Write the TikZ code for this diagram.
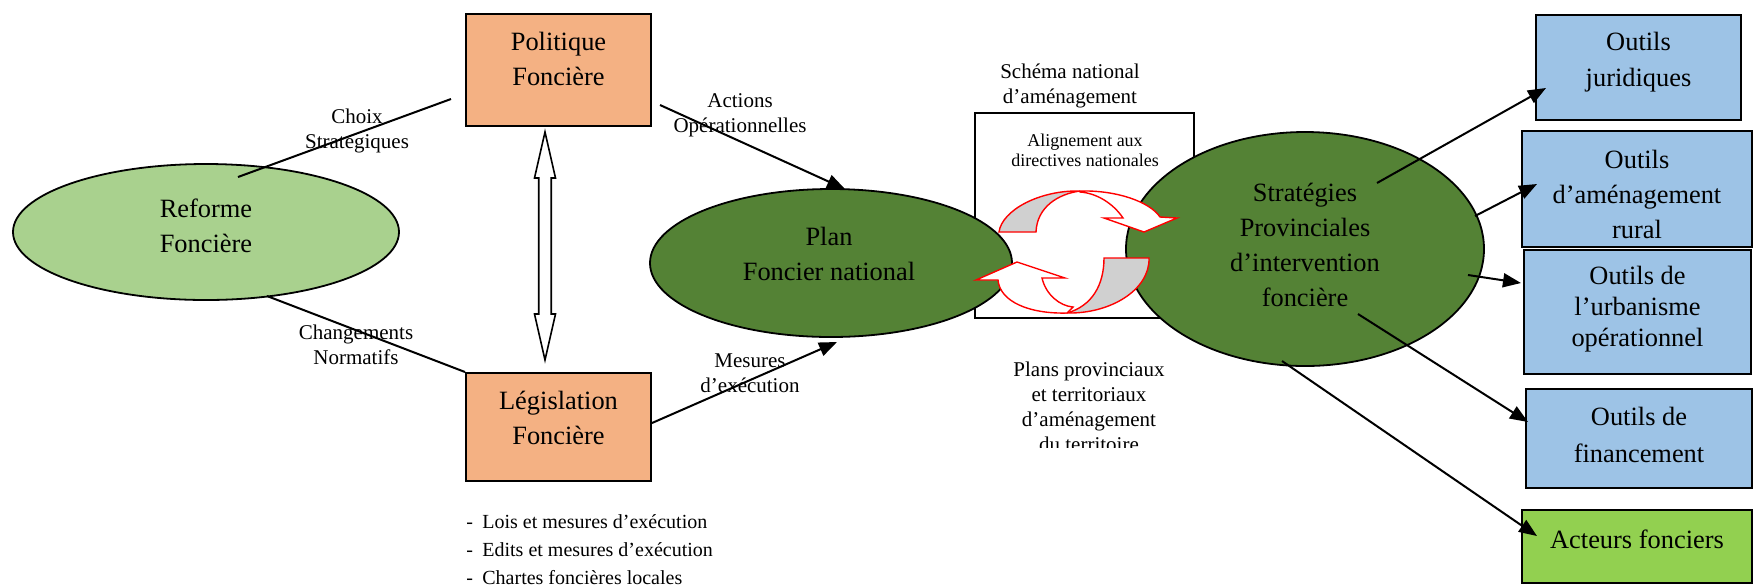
\documentclass[tikz,border=0pt]{standalone}
\usepackage{fontspec}
\setmainfont{Liberation Serif}
\usetikzlibrary{calc,arrows.meta,shapes.geometric}
\definecolor{orangebox}{HTML}{F4B183}
\definecolor{lightgreen}{HTML}{A9D18E}
\definecolor{darkgreen}{HTML}{548235}
\definecolor{bluebox}{HTML}{9DC3E6}
\definecolor{actgreen}{HTML}{92D050}
\begin{document}
\begin{tikzpicture}[x=0.5pt,y=-0.5pt,
  bigtxt/.style={font=\fontsize{13.2}{17.5}\selectfont, align=center, inner sep=0pt},
  smalltxt/.style={font=\fontsize{10.5}{12.5}\selectfont, align=center, inner sep=0pt},
  tinytxt/.style={font=\fontsize{9}{10}\selectfont, align=center, inner sep=0pt},
  listtxt/.style={font=\fontsize{10}{14}\selectfont, inner sep=0pt, anchor=base west},
  obox/.style={draw, line width=1pt, fill=orangebox, minimum width=92.5pt, inner sep=0pt},
  bbox/.style={draw, line width=1pt, fill=bluebox, inner sep=0pt},
  ell/.style={draw, ellipse, line width=0.9pt, inner sep=0pt},
  conn/.style={line width=1pt},
  arr/.style={line width=1pt, -{Triangle[length=9pt,width=7pt]}},
  carrow/.style={draw=red, line width=0.7pt, fill=white},
  cgray/.style={draw=red, line width=0.7pt, fill=gray!37},
  dbl/.style={draw, line width=0.8pt, fill=white}
]
\useasboundingbox (0,0) rectangle (1753,586);

% left part
\node[ell, fill=lightgreen, minimum width=193pt, minimum height=68pt] (ref) at (206,232) {};
\node[bigtxt] (reft) at (206,226) {Reforme\\Foncière};

\node[obox, minimum height=56pt] (pol) at (558.5,70) {};
\node[bigtxt] (polt) at (558.5,59) {Politique\\Foncière};
\node[obox, minimum height=54pt] (leg) at (558.5,427) {};
\node[bigtxt] (legt) at (558.5,418) {Législation\\Foncière};

% schema box
\node[draw, line width=1pt, minimum width=109.5pt, minimum height=102.5pt, inner sep=0pt] (schema) at (1084.5,215.5) {};
\node[smalltxt] (schemat) at (1070,86) {Schéma national\\d’aménagement};
\node[tinytxt] (alignt) at (1085,150) {Alignement aux\\directives nationales};

% ellipses
\node[ell, fill=darkgreen, minimum width=181pt, minimum height=74pt] (plan) at (831,263) {};
\node[bigtxt] (plant) at (829,254) {Plan\\Foncier national};
\node[ell, fill=darkgreen, minimum width=179pt, minimum height=117pt] (strat) at (1305,249) {};
\node[bigtxt] (stratt) at (1305,245) {Stratégies\\Provinciales\\d’intervention\\foncière};

% circular arrows
\path[cgray] (999,232) .. controls (1002,210) and (1040,190) .. (1080,191)
  .. controls (1058,194) and (1037,207) .. (1036,232) -- cycle;
\path[carrow] (1080,191) .. controls (1117,190) and (1150,202) .. (1160,217)
  -- (1177,218) -- (1144,232) -- (1104,218) -- (1123,218)
  .. controls (1113,203) and (1096,193) .. (1080,192) -- cycle;
\path[cgray] (1104,258) -- (1149,258) .. controls (1150,290) and (1110,314) .. (1067,313)
  .. controls (1092,306) and (1104,285) .. (1104,258) -- cycle;
\path[carrow] (1067,313) .. controls (1030,314) and (1000,302) .. (998,280)
  -- (976,280) -- (1017,262) -- (1065,278) -- (1042,278)
  .. controls (1046,295) and (1060,306) .. (1073,307) -- cycle;

% plans provinciaux text (clipped as in the original)
\begin{scope}
\clip (950,340) rectangle (1230,447);
\node[smalltxt] (planst) at (1089,407) {Plans provinciaux\\et territoriaux\\d’aménagement\\du territoire};
\end{scope}

% right boxes
\node[bbox, minimum width=102.5pt, minimum height=52.5pt] (jur) at (1638.5,67.5) {};
\node[bigtxt, font=\fontsize{13.2}{18}\selectfont] (jurt) at (1638.5,62) {Outils\\juridiques};
\node[bbox, minimum width=115pt, minimum height=58pt] (amen) at (1637,189) {};
\node[bigtxt] (ament) at (1637,194) {Outils\\d’aménagement\\rural};
\node[bbox, minimum width=113.5pt, minimum height=62pt] (urb) at (1637.5,312) {};
\node[bigtxt, font=\fontsize{13.2}{15.5}\selectfont] (urbt) at (1637.5,309) {Outils de\\l’urbanisme\\opérationnel};
\node[bbox, minimum width=113pt, minimum height=49.5pt] (fin) at (1639,438.5) {};
\node[bigtxt, font=\fontsize{13.2}{18.5}\selectfont] (fint) at (1639,435) {Outils de\\financement};
\node[draw, line width=1pt, fill=actgreen, inner sep=0pt, minimum width=115pt, minimum height=36.5pt] (act) at (1637,546.5) {};
\node[bigtxt] (actt) at (1637,539) {Acteurs fonciers};

% left connectors
\draw[conn] ($(pol.west)+(-14,29)$) -- ($(ref.center)+(32,-55)$);
\draw[conn] ($(ref.center)+(61,64)$) -- (leg.north west);
\node[smalltxt] (choixt) at (357,131) {Choix\\Strategiques};
\node[smalltxt] (changt) at (356,345) {Changements\\Normatifs};

% double arrow
\coordinate (dtop) at ($(pol.south)+(-13.5,5)$);
\coordinate (dbot) at ($(leg.north)+(-13.5,-12)$);
\draw[dbl] (dtop) -- ($(dtop)+(10.5,46)$) -- ($(dtop)+(6.25,46)$) -- ($(dbot)+(6.25,-46)$)
  -- ($(dbot)+(10.5,-46)$) -- (dbot) -- ($(dbot)+(-10.5,-46)$) -- ($(dbot)+(-6.25,-46)$)
  -- ($(dtop)+(-6.25,46)$) -- ($(dtop)+(-10.5,46)$) -- cycle;

% to plan
\draw[arr] ($(pol.east)+(8,35)$) -- ($(plan.center)+(14,-74)$);
\draw[arr] ($(leg.east)+(0,-4)$) -- ($(plan.center)+(6,79)$);
\node[smalltxt] (actiont) at (740,115) {Actions\\Opérationnelles};
\node[smalltxt] (mesurt) at (750,373) {Mesures\\d’exécution};

% right connectors
\draw[arr] ($(strat.center)+(72,-66)$) -- ($(jur.west)+(11,20.5)$);
\draw[arr] ($(strat.center)+(170,-33)$) -- ($(amen.west)+(16,-5)$);
\draw[arr] ($(strat.center)+(163,26)$) -- ($(urb.west)+(-2,-29)$);
\draw[arr] ($(strat.center)+(53,65)$) -- ($(fin.west)+(3,-16.5)$);
\draw[arr] ($(strat.center)+(-23,112)$) -- ($(act.west)+(16,-10.5)$);

% list
\node[listtxt] (l1) at (466,528) {\makebox[8pt][l]{-}Lois et mesures d’exécution};
\node[listtxt] (l2) at (466,556) {\makebox[8pt][l]{-}Edits et mesures d’exécution};
\node[listtxt] (l3) at (466,584) {\makebox[8pt][l]{-}Chartes foncières locales};
\end{tikzpicture}
\end{document}
